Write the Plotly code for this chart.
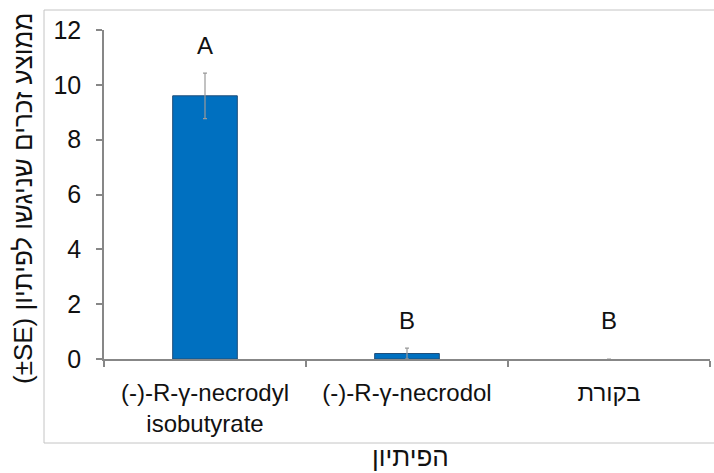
import plotly.graph_objects as go

categories = ["(-)-R-γ-necrodyl<br>isobutyrate", "(-)-R-γ-necrodol", "בקורת"]
means = [9.6, 0.2, 0.0]
se = [0.83, 0.2, 0.0]
letters = ["A", "B", "B"]
letter_y = [11.45, 1.42, 1.42]
y_ticks = [0, 2, 4, 6, 8, 10, 12]
y_title = "(±SE) ממוצע זכרים שניגשו לפיתיון"
x_title = "הפיתיון"

FONT = "Liberation Sans, Arial, sans-serif"
AXIS_GRAY = "#878787"

fig = go.Figure()
fig.add_trace(go.Bar(
    x=categories, y=means, width=0.32,
    marker=dict(color="#0070C0",
                line=dict(color="#1F4E79", width=[1 if v > 0 else 0 for v in means])),
    error_y=dict(type="data", array=[s if s > 0 else None for s in se],
                 symmetric=True, color="#9a9a9a", thickness=1.2, width=2),
    showlegend=False,
))

for c, t, yv in zip(categories, letters, letter_y):
    fig.add_annotation(x=c, y=yv, text=t, showarrow=False,
                       font=dict(family=FONT, size=24, color="#111"),
                       xanchor="center", yanchor="middle")

W, H = 714, 473
L, R, T, B = 104, 4, 30, 114
pw, ph = W - L - R, H - T - B

def px(xp):
    return (xp - L) / pw

def py(yp):
    return (H - B - yp) / ph

fig.add_annotation(xref="paper", yref="paper", x=px(23), y=py(199), text=y_title,
                   textangle=-90, showarrow=False, xanchor="center", yanchor="middle",
                   font=dict(family=FONT, size=26, color="#111"))
fig.add_annotation(xref="paper", yref="paper", x=px(410), y=py(457), text=x_title,
                   showarrow=False, xanchor="center", yanchor="middle",
                   font=dict(family=FONT, size=26, color="#111"))

fig.add_shape(type="rect", xref="paper", yref="paper",
              x0=px(44), x1=px(720), y0=py(443), y1=py(10),
              line=dict(color="#c4c4c4", width=1), fillcolor="rgba(0,0,0,0)",
              layer="below")

fig.update_layout(
    width=W, height=H,
    margin=dict(l=L, r=R, t=T, b=B, pad=0),
    paper_bgcolor="white", plot_bgcolor="white",
    font=dict(family=FONT, size=20, color="#111"),
)
fig.update_xaxes(
    type="category", tickson="boundaries", range=[-0.5, 2.5],
    showline=True, linecolor=AXIS_GRAY, linewidth=1.5,
    ticks="outside", ticklen=6, tickcolor=AXIS_GRAY, tickwidth=1.5,
    ticklabelstandoff=11,
    tickfont=dict(family=FONT, size=24, color="#111"),
    showgrid=False, zeroline=False, automargin=False,
)
fig.update_yaxes(
    range=[0, 12], tickvals=y_ticks,
    showline=True, linecolor=AXIS_GRAY, linewidth=1.5,
    ticks="outside", ticklen=6, tickcolor=AXIS_GRAY, tickwidth=1.5,
    ticklabelstandoff=10,
    tickfont=dict(family=FONT, size=25, color="#111"),
    showgrid=False, zeroline=False, automargin=False,
)

fig.write_html("out.html")
